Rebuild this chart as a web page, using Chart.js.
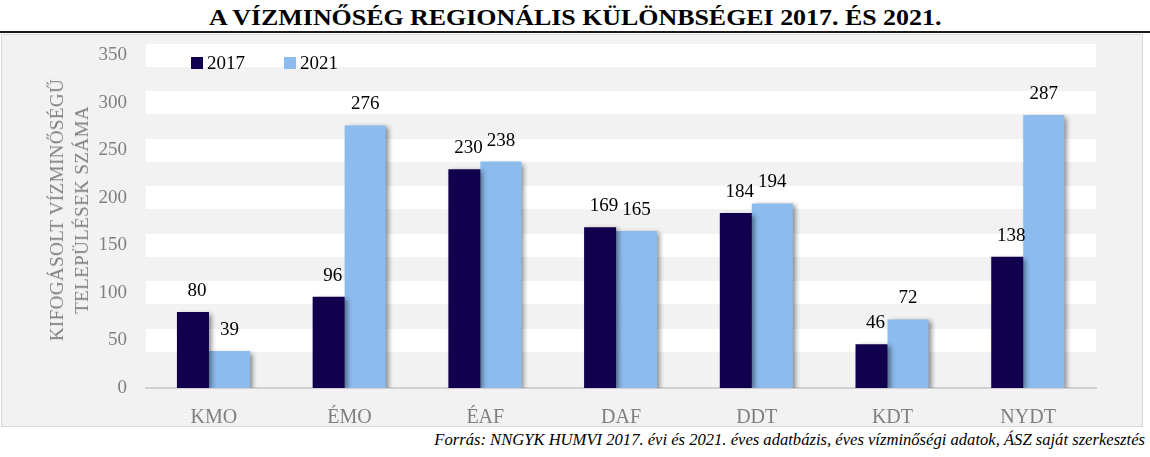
<!DOCTYPE html>
<html lang="hu">
<head>
<meta charset="UTF-8">
<title>A vízminőség regionális különbségei</title>
<script src="https://cdn.jsdelivr.net/npm/chart.js"></script>
<style>
  body { margin: 0; width: 1150px; height: 457px; background: #fff; position: relative; overflow: hidden; font-family: "Liberation Serif", serif; }
  #title { position: absolute; left: 0; top: 2px; width: 1150px; text-align: center; font-weight: bold; font-size: 24px; line-height: 30px; white-space: nowrap; color: #000; }
  #title span { display: inline-block; transform-origin: center; }
  #rule { position: absolute; left: 0; top: 31px; width: 1150px; height: 2px; background: #1a1a1a; }
  #box { position: absolute; left: 1px; top: 34px; width: 1140px; height: 391px; border: 1px solid #d9d9d9; background: #f2f2f2; }
  #box canvas { position: absolute; left: 0; top: 0; }
  #ytitle { position: absolute; left: 69px; top: 210px; transform: translate(-50%, -50%) rotate(-90deg); font-family: "Liberation Serif", serif; font-size: 19px; letter-spacing: 0.4px; line-height: 25px; color: #7f7f7f; text-align: center; white-space: nowrap; }
  #source { position: absolute; right: 5px; top: 430px; font-style: italic; font-size: 16.6px; line-height: 20px; white-space: nowrap; color: #000; }
</style>
</head>
<body>
  <div id="title"><span>A VÍZMINŐSÉG REGIONÁLIS KÜLÖNBSÉGEI 2017. ÉS 2021.</span></div>
  <div id="rule"></div>
  <div id="box">
    <canvas id="chart" width="1140" height="391"></canvas>
  </div>
  <div id="ytitle">KIFOGÁSOLT VÍZMINŐSÉGŰ<br>TELEPÜLÉSEK SZÁMA</div>
  <div id="source">Forrás: NNGYK HUMVI 2017. évi és 2021. éves adatbázis, éves vízminőségi adatok, ÁSZ saját szerkesztés</div>

<script>
  const categories = ['KMO', 'ÉMO', 'ÉAF', 'DAF', 'DDT', 'KDT', 'NYDT'];
  const seriesNames = ['2017', '2021'];
  const values2017 = [80, 96, 230, 169, 184, 46, 138];
  const values2021 = [39, 276, 238, 165, 194, 72, 287];
  const yMax = 350;
  const yStep = 50;

  // squeeze the title to the width it has in the picture
  const t = document.querySelector('#title span');
  t.style.transform = 'scaleX(' + (732 / t.offsetWidth) + ')';

  const serif = 'Liberation Serif';

  const barExtras = {
    id: 'barExtras',
    beforeDatasetsDraw(chart) {
      const ctx = chart.ctx;
      ctx.save();
      ctx.shadowColor = 'rgba(0,0,0,0.45)';
      ctx.shadowBlur = 5;
      ctx.shadowOffsetX = 3;
      ctx.shadowOffsetY = 2;
    },
    afterDatasetsDraw(chart) {
      const ctx = chart.ctx;
      ctx.restore();
      // value labels above the bars
      ctx.save();
      ctx.font = '19px "Liberation Serif"';
      ctx.fillStyle = '#000';
      ctx.textAlign = 'center';
      ctx.textBaseline = 'alphabetic';
      chart.data.datasets.forEach((ds, i) => {
        const meta = chart.getDatasetMeta(i);
        meta.data.forEach((bar, j) => {
          const dx = i === 0 ? 4 : 0;
          ctx.fillText(ds.data[j], bar.x + dx, bar.y - 16);
        });
      });
      ctx.restore();
    },
    afterDraw(chart) {
      // legend inside the plot, top left
      const ctx = chart.ctx;
      ctx.save();
      ctx.font = '19px "Liberation Serif"';
      ctx.textBaseline = 'alphabetic';
      ctx.textAlign = 'left';
      const xs = [189, 282];
      chart.data.datasets.forEach((ds, i) => {
        ctx.fillStyle = ds.backgroundColor;
        ctx.fillRect(xs[i], 22, 12, 12);
        ctx.fillStyle = '#000';
        ctx.fillText(ds.label, xs[i] + 16, 34);
      });
      ctx.restore();
    }
  };

  function draw() {
    const ctx = document.getElementById('chart').getContext('2d');
    new Chart(ctx, {
      type: 'bar',
      data: {
        labels: categories,
        datasets: [
          {
            label: seriesNames[0],
            data: values2017,
            backgroundColor: '#10004e',
            categoryPercentage: 0.616,
            barPercentage: 0.766
          },
          {
            label: seriesNames[1],
            data: values2021,
            backgroundColor: '#8cbbee',
            categoryPercentage: 0.46,
            barPercentage: 1.314
          }
        ]
      },
      options: {
        responsive: false,
        animation: false,
        layout: { padding: { top: 20, right: 46, left: 0, bottom: 0 } },
        plugins: {
          legend: { display: false },
          tooltip: { enabled: false }
        },
        scales: {
          x: {
            grid: { display: false },
            border: { color: '#d0d0d0', width: 2 },
            ticks: { color: '#7f7f7f', font: { family: serif, size: 20 }, padding: 10 },
            afterFit: s => { s.height = 38; }
          },
          y: {
            min: 0,
            max: yMax,
            border: { display: false },
            grid: {
              drawTicks: false,
              // wide white lines make the striped background
              lineWidth: c => (c.tick && c.tick.value === 0) ? 0 : 23,
              color: c => (c.tick && c.tick.value === 0) ? 'rgba(0,0,0,0)' : '#ffffff'
            },
            ticks: { stepSize: yStep, color: '#7f7f7f', font: { family: serif, size: 19 }, padding: 19 },
            afterFit: s => {
              s.width = 144;
              s.paddingTop = 0;
              s.paddingBottom = 0;
            }
          }
        }
      },
      plugins: [barExtras]
    });
  }

  document.fonts.load('19px "Liberation Serif"').then(draw, draw);
</script>
</body>
</html>
